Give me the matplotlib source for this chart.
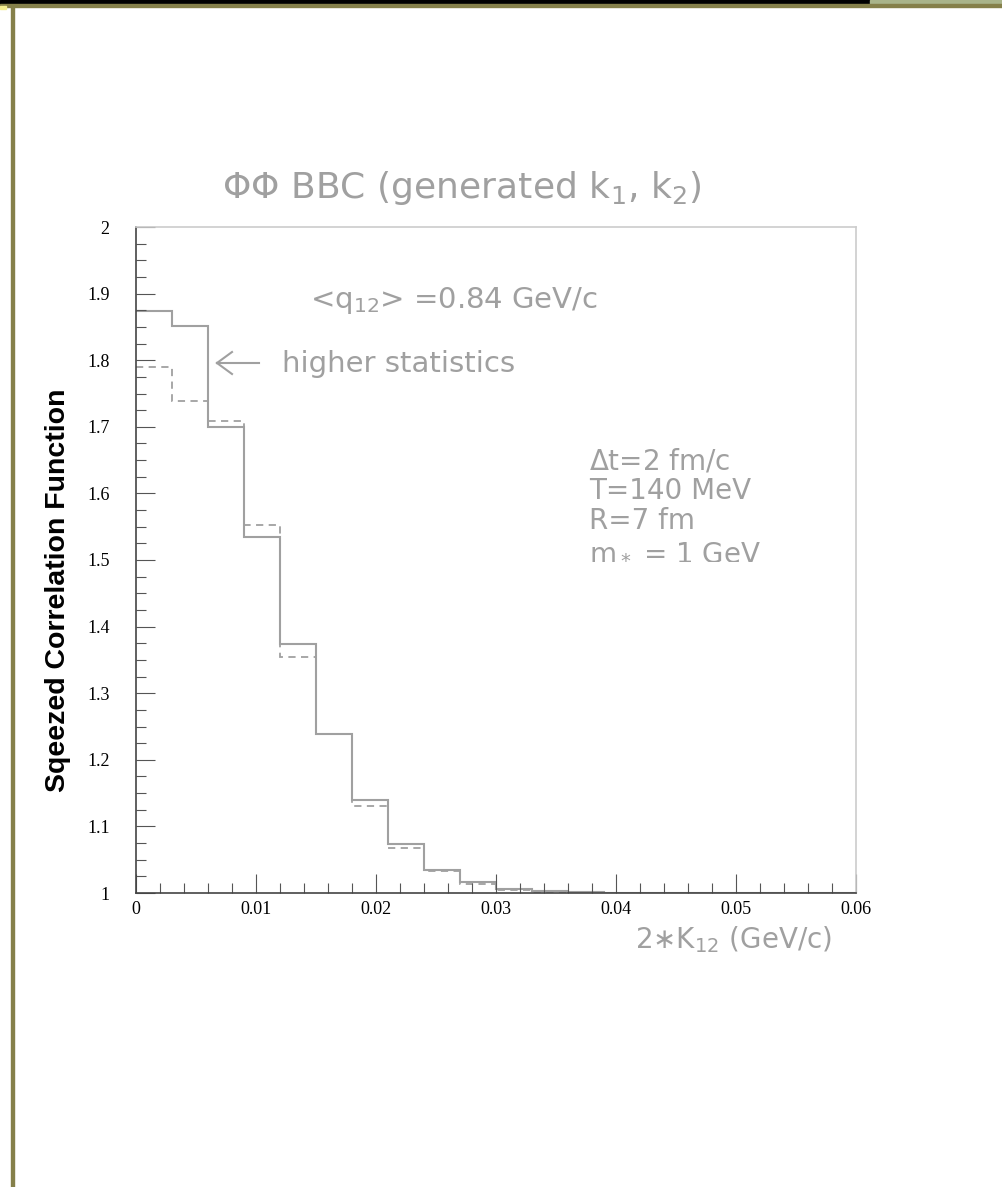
import numpy as np
import matplotlib.pyplot as plt
from matplotlib.patches import Rectangle
from matplotlib.lines import Line2D

# bin edges in 2*K12 (GeV/c), 20 bins of 0.003
bin_edges = np.linspace(0.0, 0.06, 21)

# higher statistics (solid) and lower statistics (dashed)
solid_vals = [1.874, 1.851, 1.700, 1.535, 1.374, 1.238, 1.140, 1.073, 1.035, 1.016,
              1.006, 1.003, 1.0015, 1.0005, 1.0, 1.0, 1.0, 1.0, 1.0, 1.0]
dashed_vals = [1.790, 1.738, 1.708, 1.552, 1.354, 1.238, 1.130, 1.068, 1.033, 1.013,
               1.005, 1.002, 1.001, 1.0, 1.0, 1.0, 1.0, 1.0, 1.0, 1.0]

x_ticks = [0, 0.01, 0.02, 0.03, 0.04, 0.05, 0.06]
x_ticklabels = ['0', '0.01', '0.02', '0.03', '0.04', '0.05', '0.06']
y_ticks = [1, 1.1, 1.2, 1.3, 1.4, 1.5, 1.6, 1.7, 1.8, 1.9, 2]
y_ticklabels = ['1', '1.1', '1.2', '1.3', '1.4', '1.5', '1.6', '1.7', '1.8', '1.9', '2']

params = [r'$\Delta$t=2 fm/c', 'T=140 MeV', 'R=7 fm', r'm$_*$ = 1 GeV']

W, H = 1003, 1187
gray = '#a0a0a0'
olive = '#85804a'

fig = plt.figure(figsize=(W / 100, H / 100), dpi=100)
plt.rcParams['mathtext.default'] = 'regular'

def fx(px):
    return px / W

def fy(py):
    return 1 - py / H

# slide border bits
fig.patches.append(Rectangle((0, fy(4)), 1, 4 / H, transform=fig.transFigure,
                             color='black', zorder=0))
fig.patches.append(Rectangle((fx(870), fy(4)), 1 - fx(870), 4 / H, transform=fig.transFigure,
                             color='#a9b48a', zorder=1))
fig.patches.append(Rectangle((0, fy(6.5)), 1, 2.5 / H, transform=fig.transFigure,
                             color=olive, zorder=1))
fig.patches.append(Rectangle((fx(11.5), 0), 3 / W, fy(6.5), transform=fig.transFigure,
                             color=olive, zorder=1))
fig.patches.append(Rectangle((0, fy(9)), fx(6), 3 / H, transform=fig.transFigure,
                             color='#f4ee90', zorder=1))

ax = fig.add_axes([fx(136), fy(893), fx(856) - fx(136), fy(227) - fy(893)])
ax.stairs(solid_vals, bin_edges, baseline=None, color=gray, lw=1.5)
ax.stairs(dashed_vals, bin_edges, baseline=None, color=gray, lw=1.3, linestyle=(0, (4, 3)))

ax.set_xlim(0, 0.06)
ax.set_ylim(1, 2)
ax.set_xticks(x_ticks)
ax.set_xticklabels(x_ticklabels)
ax.set_yticks(y_ticks)
ax.set_yticklabels(y_ticklabels)
ax.set_xticks(np.arange(0, 0.0601, 0.002), minor=True)
ax.set_yticks(np.arange(1, 2.001, 0.025), minor=True)
ax.tick_params(which='major', direction='in', length=14, width=0.8, color='#555555',
               labelsize=13, labelfontfamily='Liberation Serif')
ax.tick_params(axis='y', which='major', pad=19)
ax.tick_params(axis='x', which='major', pad=6)
ax.tick_params(which='minor', direction='in', length=7, width=0.8, color='#555555')
ax.tick_params(top=False, right=False, which='both')
for s in ['left', 'bottom']:
    ax.spines[s].set_color('#444444')
    ax.spines[s].set_linewidth(1.2)
for s in ['top', 'right']:
    ax.spines[s].set_color('#cccccc')
    ax.spines[s].set_linewidth(1.2)

fig.text(fx(58), fy(590), 'Sqeezed Correlation Function', fontsize=20.5, fontweight='bold',
         family='Liberation Sans', rotation=90, ha='center', va='center')

# texts
fig.text(fx(462), fy(188), r'ΦΦ BBC (generated k$_1$, k$_2$)', fontsize=26, color=gray,
         ha='center', va='center')
fig.text(fx(310), fy(300), r'<q$_{12}$> =0.84 GeV/c', fontsize=21, color=gray,
         ha='left', va='center')
fig.text(fx(282), fy(364), 'higher statistics', fontsize=21, color=gray,
         ha='left', va='center')
fig.add_artist(Line2D([fx(218), fx(259)], [fy(363), fy(363)], color=gray, lw=1.5,
                      transform=fig.transFigure))
fig.add_artist(Line2D([fx(217), fx(232)], [fy(363), fy(352)], color=gray, lw=1.5,
                      transform=fig.transFigure))
fig.add_artist(Line2D([fx(217), fx(232)], [fy(363), fy(374)], color=gray, lw=1.5,
                      transform=fig.transFigure))
for i, t in enumerate(params):
    fig.text(fx(589), fy(461 + 30 * i), t, fontsize=20, color=gray, ha='left', va='center')
fig.text(fx(832), fy(940), r'2$\ast$K$_{12}$ (GeV/c)', fontsize=20, color=gray,
         ha='right', va='center')

fig.savefig('out.png', dpi=100)
